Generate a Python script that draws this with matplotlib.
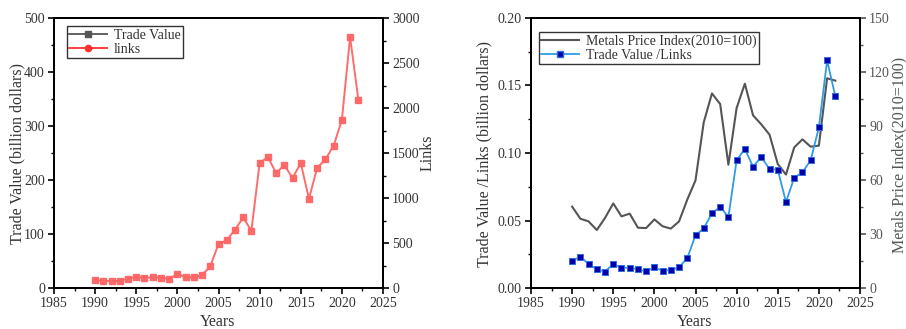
import matplotlib
matplotlib.use("Agg")
import matplotlib.pyplot as plt
from matplotlib.lines import Line2D
from matplotlib.ticker import MultipleLocator, FuncFormatter

plt.rcParams['font.family'] = ['Liberation Serif', 'DejaVu Serif']

years = list(range(1990, 2023))
trade_value = [15.5, 12.4, 13, 13, 17.3, 20.4, 18.6, 19.8, 19.2, 16.7, 26, 19.8, 19.8, 24.1,
               40.2, 81.7, 88.5, 107.7, 130.6, 105.8, 231.4, 242.6, 212.9, 227.7, 203.6, 231.4,
               165.2, 222.8, 238.2, 263.6, 311.3, 464.7, 349]
tv_per_link = [0.0202, 0.0232, 0.0178, 0.0138, 0.0121, 0.0178, 0.0148, 0.0151, 0.0138, 0.0123,
               0.0153, 0.0128, 0.0133, 0.0153, 0.0222, 0.039, 0.0442, 0.0553, 0.0602, 0.0526,
               0.0946, 0.103, 0.0899, 0.097, 0.0881, 0.0877, 0.0637, 0.0817, 0.0857, 0.0946,
               0.119, 0.1686, 0.142]
metals_index = [45.2, 38.5, 37, 32.2, 38.9, 47, 39.8, 41.3, 33.5, 33.3, 38.1, 34.3, 33, 37,
                49.1, 59.8, 92, 108.1, 102.2, 68.5, 100, 113.5, 95.9, 90.9, 85.2, 68.9, 63,
                78.1, 82.6, 78.5, 79.1, 116.5, 115.2]

W, H = 906, 329
fig = plt.figure(figsize=(W / 100, H / 100), dpi=100)
TXT = '#333333'
FS = 11.5
TFS = 10

def style_axis(ax):
    for s in ax.spines.values():
        s.set_linewidth(1.4)
        s.set_color('black')
    ax.tick_params(which='major', direction='out', length=4, width=1.2, labelsize=TFS,
                   colors='black', labelcolor=TXT, pad=2.5)
    ax.tick_params(which='minor', direction='out', length=2.5, width=1.0, colors='black')

def ftext(x, y, s, rot=0, color=TXT, fs=FS):
    fig.text(x / W, 1 - y / H, s, rotation=rot, ha='center', va='center',
             fontsize=fs, color=color)

# ---------- Left chart ----------
axL = fig.add_axes([54 / W, 1 - 288 / H, 329 / W, 270 / H])
axL.plot(years, trade_value, color='#ff6464', lw=1.4, marker='s', ms=4.3,
         mfc='#ff6464', mec='#ff6464', alpha=0.95, zorder=3)
axL.set_xlim(1985, 2025)
axL.set_ylim(0, 500)
axL.xaxis.set_major_locator(MultipleLocator(5))
axL.xaxis.set_minor_locator(MultipleLocator(2.5))
axL.yaxis.set_major_locator(MultipleLocator(100))
axL.yaxis.set_minor_locator(MultipleLocator(50))
style_axis(axL)

axL2 = axL.twinx()
axL2.set_ylim(0, 3000)
axL2.yaxis.set_major_locator(MultipleLocator(500))
axL2.yaxis.set_minor_locator(MultipleLocator(250))
style_axis(axL2)

ftext(218, 322, 'Years')
ftext(17, 154, 'Trade Value (billion dollars)', rot=90)
ftext(428, 153, 'Links', rot=90)

hL = [Line2D([], [], color='#555555', lw=1.3, marker='s', ms=4.5, mfc='#555555', mec='#555555'),
      Line2D([], [], color='#ff3030', lw=1.3, marker='o', ms=4.5, mfc='#ff3030', mec='#ff3030')]
legL = axL.legend(hL, ['Trade Value', 'links'], loc='upper left', bbox_to_anchor=(0.03, 0.98),
                  fontsize=10, frameon=True, fancybox=False, borderpad=0.2,
                  labelspacing=0.05, handlelength=2.7, handletextpad=0.5, borderaxespad=0.2)
legL.get_frame().set_edgecolor('black')
legL.get_frame().set_linewidth(1.0)
for t in legL.get_texts():
    t.set_color(TXT)

# ---------- Right chart ----------
axR = fig.add_axes([531 / W, 1 - 288 / H, 329 / W, 270 / H])
axR2 = axR.twinx()
axR2.plot(years, metals_index, color='#555555', lw=1.5, zorder=2)
axR.plot(years, tv_per_link, color='#2f9be6', lw=1.3, marker='s', ms=4.6,
         mfc='#0000a8', mec='#2f6be6', mew=0.7, zorder=3)
axR.set_zorder(axR2.get_zorder() + 1)
axR.patch.set_visible(False)
axR.set_xlim(1985, 2025)
axR.set_ylim(0, 0.20)
axR.xaxis.set_major_locator(MultipleLocator(5))
axR.xaxis.set_minor_locator(MultipleLocator(2.5))
axR.yaxis.set_major_locator(MultipleLocator(0.05))
axR.yaxis.set_minor_locator(MultipleLocator(0.025))
axR.yaxis.set_major_formatter(FuncFormatter(lambda v, p: f'{v:.2f}'))
style_axis(axR)

axR2.set_ylim(0, 150)
axR2.yaxis.set_major_locator(MultipleLocator(30))
axR2.yaxis.set_minor_locator(MultipleLocator(15))
style_axis(axR2)
axR2.spines['right'].set_color('#555555')
axR2.tick_params(axis='y', which='both', colors='#555555', labelcolor='#555555')

ftext(695, 322, 'Years')
ftext(484, 154, 'Trade Value /Links (billion dollars)', rot=90)
ftext(899, 155, 'Metals Price Index(2010=100)', rot=90, color='#555555')

hR = [Line2D([], [], color='#555555', lw=1.5),
      Line2D([], [], color='#2f9be6', lw=1.3, marker='s', ms=4.6, mfc='#0000a8', mec='#2f6be6')]
legR = axR.legend(hR, ['Metals Price Index(2010=100)', 'Trade Value /Links'], loc='upper left',
                  bbox_to_anchor=(0.015, 0.96), fontsize=10, frameon=True, fancybox=False,
                  borderpad=0.2, labelspacing=0.05, handlelength=2.7, handletextpad=0.5,
                  borderaxespad=0.2)
legR.get_frame().set_edgecolor('black')
legR.get_frame().set_linewidth(1.0)
for t in legR.get_texts():
    t.set_color(TXT)

fig.savefig('out.png', dpi=100)
